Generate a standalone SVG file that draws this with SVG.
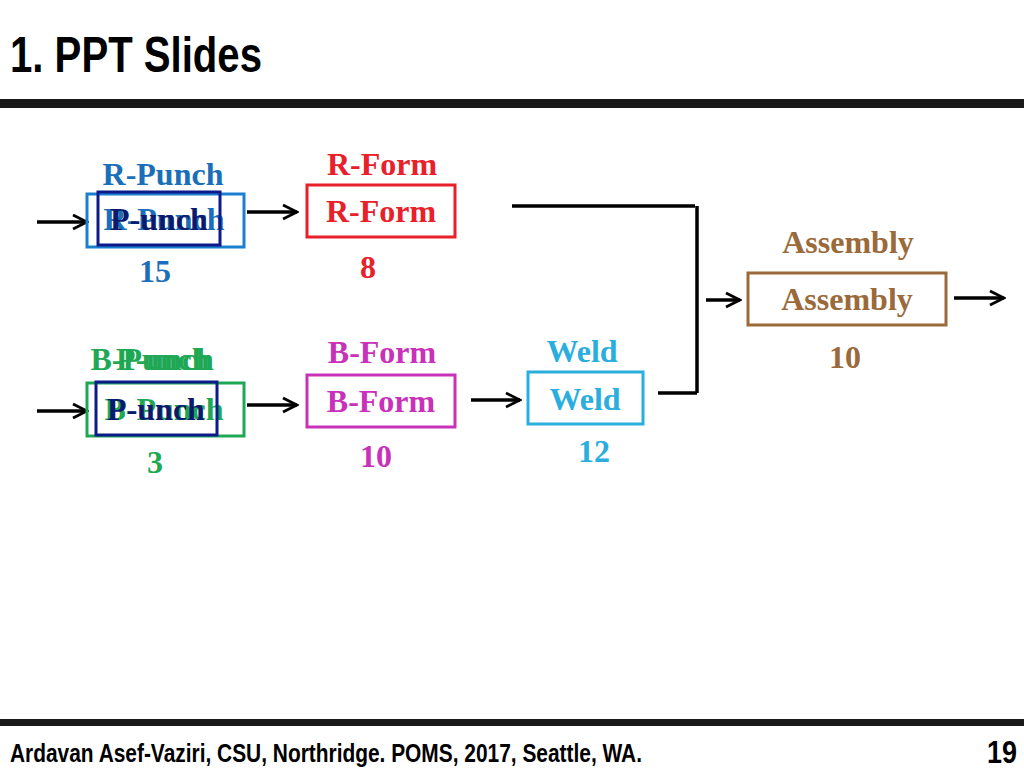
<svg xmlns="http://www.w3.org/2000/svg" width="1024" height="768" viewBox="0 0 1024 768">
<defs>
<marker id="ah" viewBox="0 0 10 10" refX="9" refY="5" markerWidth="5" markerHeight="5" orient="auto" markerUnits="strokeWidth"><path d="M1,1 L9,5 L1,9" fill="none" stroke="#000" stroke-width="1.6"/></marker>
</defs>
<style>
.t{font-family:"Liberation Serif",serif;font-weight:bold;font-size:32px;text-anchor:middle}
.h{font-family:"Liberation Sans",sans-serif;font-weight:bold}
.c{fill:none;stroke:#000;stroke-width:3.5}
.a{fill:none;stroke:#000;stroke-width:3.5;marker-end:url(#ah)}
</style>
<rect width="1024" height="768" fill="#fff"/>
<text class="h" x="10" y="72" font-size="50" textLength="252" lengthAdjust="spacingAndGlyphs">1. PPT Slides</text>
<rect x="0" y="99" width="1024" height="9" fill="#1a1a1a"/>
<rect x="0" y="719" width="1024" height="7" fill="#1a1a1a"/>
<text class="h" x="10" y="762" font-size="25" textLength="632" lengthAdjust="spacingAndGlyphs">Ardavan  Asef-Vaziri, CSU, Northridge. POMS, 2017, Seattle, WA.</text>
<text class="h" x="1017" y="763" font-size="32" text-anchor="end" textLength="30" lengthAdjust="spacingAndGlyphs">19</text>
<g id="connectors">
<path class="a" d="M37,222 H87"/>
<path class="a" d="M247,212 H297"/>
<path class="a" d="M37,411 H87"/>
<path class="a" d="M247,405 H297"/>
<path class="a" d="M471,400 H520"/>
<path class="c" d="M512,206 H695 M697,206 V393 M658,393 H697"/>
<path class="a" d="M706,300 H740"/>
<path class="a" d="M954,298 H1004"/>
</g>
<g id="rpunch">
<text class="t" x="163" y="185" fill="#1b6fb8">R-Punch</text>
<rect x="87" y="194" width="157" height="53" fill="none" stroke="#1b7fd0" stroke-width="3"/>
<text class="t" x="164" y="230" fill="#1b6fb8">R-Punch</text>
<rect x="98" y="192" width="122" height="53" fill="none" stroke="#0c1a8a" stroke-width="3"/>
<text class="t" x="159" y="230" fill="#0c1a6e">P-unch</text>
<text class="t" x="155" y="282" fill="#1b6fb8">15</text>
</g>
<g id="rform">
<text class="t" x="382" y="175" fill="#e8202a">R-Form</text>
<rect x="307" y="185" width="148" height="52" fill="none" stroke="#e8202a" stroke-width="3"/>
<text class="t" x="381" y="222" fill="#e8202a">R-Form</text>
<text class="t" x="368" y="278" fill="#e8202a">8</text>
</g>
<g id="bpunch">
<text class="t" x="150" y="370" fill="#1ea855">B-Punch</text>
<text class="t" x="165" y="370" fill="#1ea855">P-unch</text>
<rect x="87" y="383" width="157" height="53" fill="none" stroke="#1ea855" stroke-width="3"/>
<text class="t" x="164" y="420" fill="#1ea855">B-Punch</text>
<rect x="96" y="382" width="121" height="53" fill="none" stroke="#0c1a8a" stroke-width="3"/>
<text class="t" x="156" y="420" fill="#0c1a6e">P-unch</text>
<text class="t" x="155" y="473" fill="#1ea855">3</text>
</g>
<g id="bform">
<text class="t" x="382" y="363" fill="#c832b8">B-Form</text>
<rect x="307" y="375" width="148" height="52" fill="none" stroke="#c832b8" stroke-width="3"/>
<text class="t" x="381" y="412" fill="#c832b8">B-Form</text>
<text class="t" x="376" y="467" fill="#c832b8">10</text>
</g>
<g id="weld">
<text class="t" x="582" y="362" fill="#2aaede">Weld</text>
<rect x="528" y="372" width="115" height="52" fill="none" stroke="#2aaede" stroke-width="3"/>
<text class="t" x="585" y="410" fill="#2aaede">Weld</text>
<text class="t" x="594" y="462" fill="#2aaede">12</text>
</g>
<g id="assembly">
<text class="t" x="848" y="253" fill="#9b6a3a">Assembly</text>
<rect x="748" y="273" width="198" height="52" fill="none" stroke="#9b6a3a" stroke-width="3"/>
<text class="t" x="847" y="310" fill="#9b6a3a">Assembly</text>
<text class="t" x="845" y="368" fill="#9b6a3a">10</text>
</g>
</svg>
